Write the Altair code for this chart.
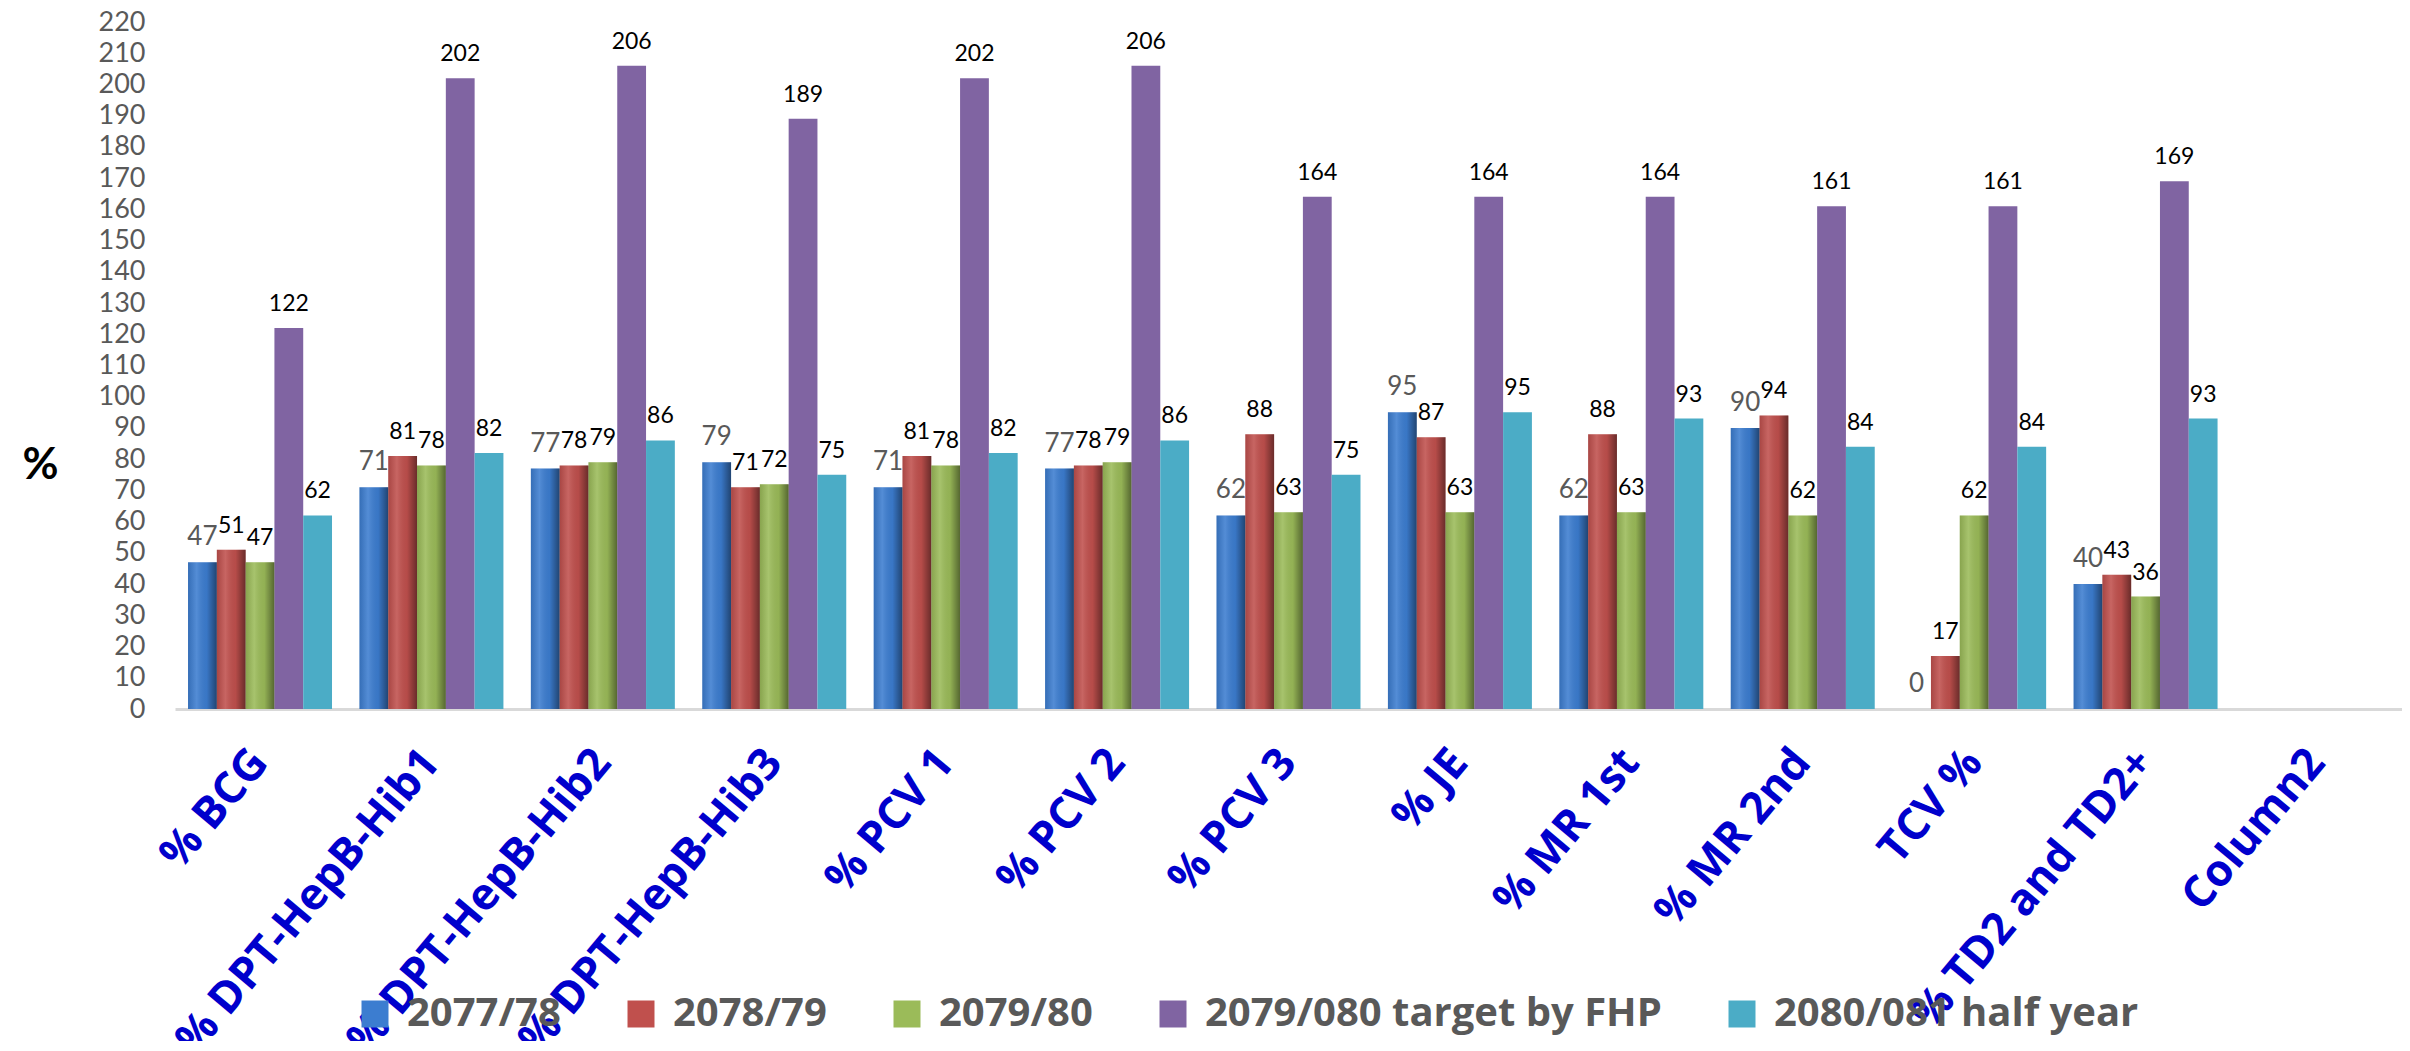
import altair as alt
import pandas as pd

categories = ["% BCG", "% DPT-HepB-Hib1", "% DPT-HepB-Hib2", "% DPT-HepB-Hib3",
              "% PCV 1", "% PCV 2", "% PCV 3", "% JE", "% MR 1st", "% MR 2nd",
              "TCV %", "% TD2 and TD2+", "Column2"]
series = ["2077/78", "2078/79", "2079/80", "2079/080 target by FHP", "2080/081 half year"]

v_2077_78 = [47, 71, 77, 79, 71, 77, 62, 95, 62, 90, 0, 40, None]
v_2078_79 = [51, 81, 78, 71, 81, 78, 88, 87, 88, 94, 17, 43, None]
v_2079_80 = [47, 78, 79, 72, 78, 79, 63, 63, 63, 62, 62, 36, None]
v_target = [122, 202, 206, 189, 202, 206, 164, 164, 164, 161, 161, 169, None]
v_half = [62, 82, 86, 75, 82, 86, 75, 95, 93, 84, 84, 93, None]

colors = ["#3C7DD0", "#C0504D", "#9BBB59", "#8064A2", "#4BACC6"]

rows = []
for s, vals in zip(series, [v_2077_78, v_2078_79, v_2079_80, v_target, v_half]):
    for c, v in zip(categories, vals):
        if v is not None:
            rows.append({"category": c, "series": s, "value": v})
df = pd.DataFrame(rows)

x_enc = alt.X(
    "category:N",
    scale=alt.Scale(domain=categories, paddingInner=0.16, paddingOuter=0.076),
    axis=alt.Axis(
        title=None, labelAngle=-50, labelAlign="right", labelBaseline="middle",
        labelColor="#0000CC", labelFont="Open Sans", labelFontWeight="bold",
        labelFontSize=44, labelPadding=46, ticks=False, domainColor="#D9D9D9",
        domainWidth=3, labelOverlap=False, labelLimit=1000,
    ),
)
xo_enc = alt.XOffset("series:N", scale=alt.Scale(domain=series, paddingInner=0, paddingOuter=0))
y_enc = alt.Y(
    "value:Q",
    scale=alt.Scale(domain=[0, 220], nice=False),
    axis=alt.Axis(
        values=list(range(0, 221, 10)), title="%", titleAngle=0, titleX=-135, titleY=443,
        titleFontSize=44, titleFont="Lato", titleFontWeight="bold", titleColor="black",
        titleAlign="center", titleBaseline="middle", labelFont="Lato", labelFontSize=27,
        labelColor="#595959", labelPadding=30, ticks=False, domain=False, grid=False,
    ),
)

base = alt.Chart(df).encode(x=x_enc, xOffset=xo_enc, y=y_enc)

bars = base.mark_bar().encode(
    color=alt.Color(
        "series:N",
        scale=alt.Scale(domain=series, range=colors),
        legend=alt.Legend(
            orient="none", legendX=180, legendY=972, direction="horizontal", title=None,
            symbolType="square", symbolSize=729, symbolStrokeWidth=0, symbolOpacity=1,
            labelFont="Open Sans", labelFontSize=40, labelFontWeight="bold",
            labelColor="#595959", labelOffset=12, columnPadding=60, padding=0,
            labelLimit=1000,
        ),
    )
)

shade = base.transform_filter(
    alt.FieldOneOfPredicate(field="series", oneOf=series[:3])
).mark_bar(
    fill=alt.LinearGradient(
        gradient="linear", x1=0, x2=1, y1=0, y2=0,
        stops=[
            alt.GradientStop(color="rgba(0,0,0,0.12)", offset=0),
            alt.GradientStop(color="rgba(255,255,255,0.12)", offset=0.3),
            alt.GradientStop(color="rgba(0,0,0,0.05)", offset=0.65),
            alt.GradientStop(color="rgba(0,0,0,0.45)", offset=1),
        ],
    )
)

blue_text = base.transform_filter(alt.datum.series == series[0]).mark_text(
    font="Lato", fontSize=26, color="#595959", baseline="alphabetic", dy=-17
).encode(text="value:Q")

other_text = base.transform_filter(alt.datum.series != series[0]).mark_text(
    font="Lato", fontSize=23, color="black", baseline="alphabetic", dy=-17
).encode(text="value:Q")

chart = alt.layer(bars, shade, blue_text, other_text).properties(
    width=2227, height=687,
    padding={"left": 167, "top": 14, "right": 0, "bottom": 332},
    autosize=alt.AutoSizeParams(type="none"),
).configure_view(stroke=None)

chart.save("out.html", embed_options={"renderer": "svg", "actions": False})
